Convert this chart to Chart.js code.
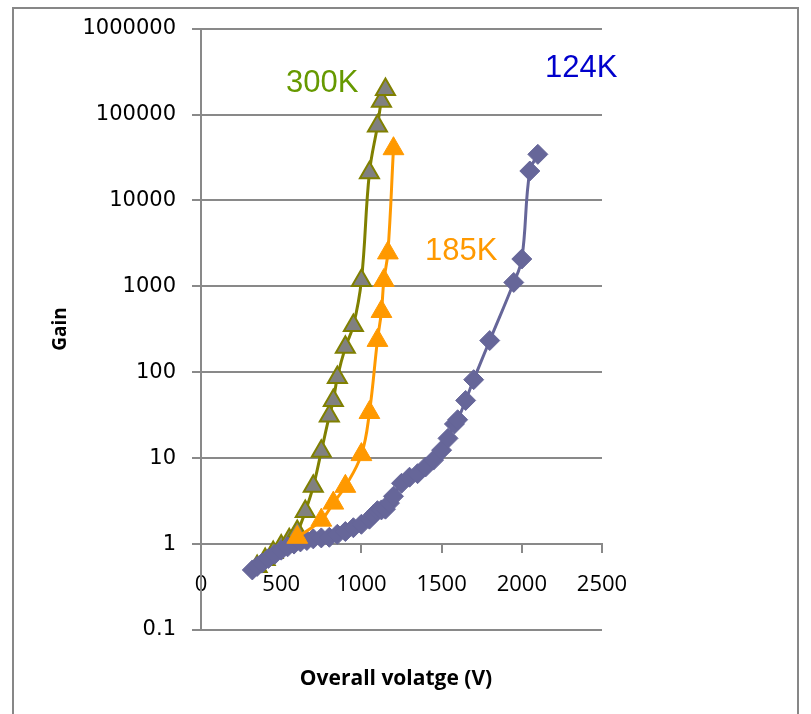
<!DOCTYPE html>
<html><head><meta charset="utf-8">
<script src="https://cdn.jsdelivr.net/npm/chart.js@4.4.1/dist/chart.umd.min.js"></script>
<style>
html,body{margin:0;padding:0;background:#fff;}
#wrap{position:relative;width:811px;height:714px;overflow:hidden;}
#frame{position:absolute;left:12px;top:7px;width:787px;height:760px;border:2px solid #878787;box-sizing:border-box;}
canvas{position:absolute;left:0;top:0;}
</style></head><body>
<div id="wrap"><div id="frame"></div><canvas id="c" width="811" height="714"></canvas></div>
<script>
// ---- data ----
const xTicks = [0, 500, 1000, 1500, 2000, 2500];
const yTicks = [0.1, 1, 10, 100, 1000, 10000, 100000, 1000000];

const seriesNames = ['300K', '185K', '124K'];

const volt300 = [350,400,450,500,550,600,650,700,750,800,825,850,900,950,1000,1050,1100,1125,1150];
const gain300 = [0.55,0.66,0.8,0.95,1.12,1.4,2.4,4.7,12,31,47,87,195,350,1170,21000,73500,143000,196000];

const volt185 = [600,750,825,900,1000,1050,1100,1125,1140,1165,1200];
const gain185 = [1.2,1.9,3.0,4.7,11,34,235,510,1170,2450,40000];

const volt124 = [320,350,380,420,460,500,540,580,620,660,700,750,800,850,900,950,1000,1050,1075,1100,1125,1150,1175,1200,1250,1300,1350,1400,1450,1500,1540,1580,1600,1650,1700,1800,1950,2000,2050,2100];
const gain124 = [0.5,0.55,0.6,0.68,0.76,0.85,0.93,1.0,1.06,1.1,1.15,1.18,1.2,1.3,1.4,1.55,1.7,1.95,2.2,2.45,2.5,2.55,3.0,3.6,5.1,6.0,6.6,7.9,9.5,12.4,17,25,28,47,82,234,1110,2080,22000,34400];

const xTitle = 'Overall volatge (V)';
const yTitle = 'Gain';

// ---- styling / layout (not data) ----
const GRID = '#898989';
const pts = (xs, ys) => xs.map((x, i) => ({x: x, y: ys[i]}));

const annotations = [
  {text: '300K', color: '#669900', x: 286, y: 92},
  {text: '185K', color: '#FF9900', x: 425, y: 260},
  {text: '124K', color: '#0000CC', x: 545, y: 77}
];

const overlay = {
  id: 'overlay',
  afterDraw(chart) {
    const ctx = chart.ctx;
    ctx.save();
    ctx.font = '31px "Liberation Sans", Arial, sans-serif';
    ctx.textAlign = 'left';
    ctx.textBaseline = 'alphabetic';
    annotations.forEach(a => { ctx.fillStyle = a.color; ctx.fillText(a.text, a.x, a.y); });
    ctx.fillStyle = '#000';
    ctx.font = 'bold 21px "Open Sans", sans-serif';
    ctx.textAlign = 'center';
    ctx.fillText(xTitle, 396, 685);
    ctx.translate(66, 329);
    ctx.rotate(-Math.PI / 2);
    ctx.font = 'bold 19px "Open Sans", sans-serif';
    ctx.fillText(yTitle, 0, 0);
    ctx.restore();
  }
};

new Chart(document.getElementById('c'), {
  type: 'line',
  data: {
    datasets: [
      {
        label: seriesNames[1], data: pts(volt185, gain185),
        borderColor: '#FF9900', backgroundColor: '#FF9900', borderWidth: 3,
        pointStyle: 'triangle', pointRadius: 12, pointBorderWidth: 1,
        pointBackgroundColor: '#FF9900', pointBorderColor: '#FF9900', tension: 0.4
      },
      {
        label: seriesNames[2], data: pts(volt124, gain124),
        borderColor: '#666699', backgroundColor: '#666699', borderWidth: 3,
        pointStyle: 'rectRot', pointRadius: 10, pointBorderWidth: 1,
        pointBackgroundColor: '#666699', pointBorderColor: '#666699', tension: 0.4
      },
      {
        label: seriesNames[0], data: pts(volt300, gain300),
        borderColor: '#808000', backgroundColor: '#808080', borderWidth: 3,
        pointStyle: 'triangle', pointRadius: 11, pointBorderWidth: 2,
        pointBackgroundColor: '#808080', pointBorderColor: '#808000', tension: 0.4
      }
    ]
  },
  options: {
    responsive: false,
    animation: false,
    devicePixelRatio: 1,
    layout: {padding: {left: 0, top: 27, right: 209, bottom: 84}},
    plugins: {legend: {display: false}, tooltip: {enabled: false}},
    scales: {
      x: {
        type: 'linear', position: {y: 1}, min: 0, max: 2500,
        afterBuildTicks: s => { s.ticks = xTicks.map(v => ({value: v})); },
        ticks: {
          callback: v => String(v), padding: 19, maxRotation: 0, autoSkip: false,
          color: '#000', font: {family: '"Open Sans", sans-serif', size: 22}
        },
        grid: {drawOnChartArea: false, drawTicks: true, tickLength: 8, color: GRID, lineWidth: 2},
        border: {display: true, color: GRID, width: 2}
      },
      y: {
        type: 'logarithmic', position: 'left', min: 0.1, max: 1000000,
        afterBuildTicks: s => { s.ticks = yTicks.map(v => ({value: v})); },
        afterFit: s => { s.width = 201; },
        ticks: {
          callback: v => String(v), padding: 16, autoSkip: false,
          color: '#000', font: {family: '"DejaVu Sans", sans-serif', size: 21}
        },
        grid: {drawOnChartArea: true, drawTicks: true, tickLength: 9, color: GRID, lineWidth: 2},
        border: {display: true, color: GRID, width: 2}
      }
    }
  },
  plugins: [overlay]
});
</script>
</body></html>
